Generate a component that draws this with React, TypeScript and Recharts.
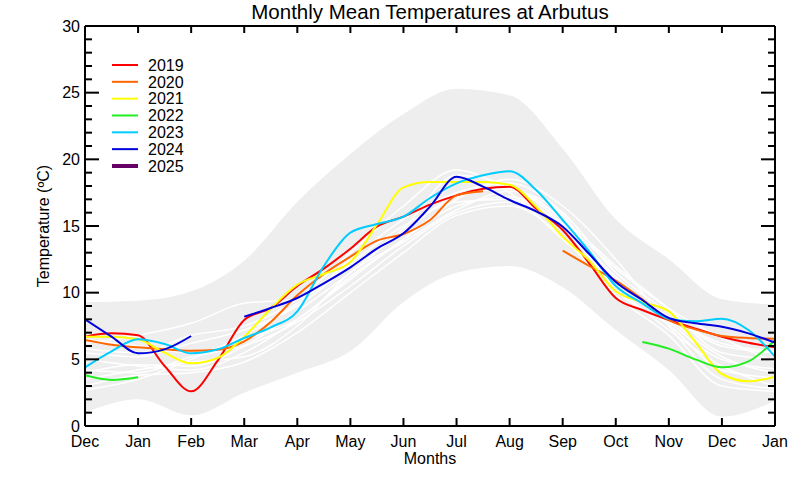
import React from 'react';
import { ComposedChart, Line, Area, XAxis, YAxis } from 'recharts';

// ---------- categories / ticks ----------
const MONTH_X = [0, 1, 2, 3, 4, 5, 6, 7, 8, 9, 10, 11, 12, 13];
const MONTH_LABELS = ['Dec', 'Jan', 'Feb', 'Mar', 'Apr', 'May', 'Jun', 'Jul', 'Aug', 'Sep', 'Oct', 'Nov', 'Dec', 'Jan'];
const HALF_MONTH_X = [0, 0.5, 1, 1.5, 2, 2.5, 3, 3.5, 4, 4.5, 5, 5.5, 6, 6.5, 7, 7.5, 8, 8.5, 9, 9.5, 10, 10.5, 11, 11.5, 12, 12.5, 13];
const Y_TICKS = [0, 1, 2, 3, 4, 5, 6, 7, 8, 9, 10, 11, 12, 13, 14, 15, 16, 17, 18, 19, 20, 21, 22, 23, 24, 25, 26, 27, 28, 29, 30];

// ---------- envelope (monthly) ----------
const BAND_LOW = [1.0, 2.0, 0.8, 2.5, 4.0, 5.6, 9.3, 11.5, 12.0, 10.4, 7.2, 4.2, 0.7, 1.9];
const BAND_HIGH = [9.3, 9.4, 10.1, 12.4, 16.8, 20.4, 23.4, 25.3, 24.8, 20.8, 15.5, 12.5, 9.5, 9.1];

// ---------- historical years (monthly, white) ----------
const HIST_A = [5.0, 4.5, 4.2, 5.5, 8.0, 11.0, 14.0, 16.5, 17.2, 15.0, 11.0, 7.8, 5.0, 4.3];
const HIST_B = [4.2, 4.0, 5.2, 6.0, 7.8, 10.5, 13.5, 16.0, 16.8, 14.8, 10.5, 7.2, 4.5, 3.0];
const HIST_C = [6.2, 6.8, 7.7, 9.2, 9.5, 12.5, 15.5, 17.5, 18.2, 16.0, 11.5, 8.5, 6.0, 5.5];
const HIST_D = [3.0, 3.8, 4.0, 4.8, 7.0, 10.0, 13.0, 15.8, 16.5, 14.2, 9.8, 6.8, 3.0, 2.6];
const HIST_E = [5.5, 5.2, 6.2, 7.2, 9.0, 12.0, 14.6, 17.2, 17.8, 15.5, 12.0, 8.8, 5.5, 5.0];
const HIST_F = [4.0, 4.6, 4.5, 6.0, 8.6, 11.5, 14.8, 18.8, 18.0, 15.2, 11.2, 8.0, 5.2, 4.0];
const HIST_G = [5.8, 5.5, 6.8, 7.5, 9.5, 13.0, 16.5, 19.2, 17.5, 14.0, 10.8, 8.2, 6.2, 5.6];
const HIST_H = [2.7, 3.5, 5.0, 6.8, 9.2, 12.2, 15.0, 16.8, 17.0, 15.2, 11.8, 8.8, 6.6, 4.8];
const HIST_I = [6.5, 6.0, 5.5, 6.5, 8.0, 11.2, 14.0, 17.0, 18.5, 16.5, 12.5, 7.5, 3.5, 2.8];
const HIST_J = [3.5, 4.2, 4.8, 5.2, 7.5, 11.5, 13.8, 16.2, 17.6, 15.8, 10.2, 7.6, 4.2, 3.6];
const HISTORY = [HIST_A, HIST_B, HIST_C, HIST_D, HIST_E, HIST_F, HIST_G, HIST_H, HIST_I, HIST_J];

// ---------- recent years (half-month grid) ----------
const N = null;
const T2019 = [6.7, 6.95, 6.8, 4.5, 2.6, 4.9, 7.95, 8.85, 10.5, 11.8, 13.3, 14.95, 15.7, 16.6, 17.3, 17.8, 17.95, 16.3, 14.7, 12.2, 9.6, 8.7, 7.95, 7.3, 6.7, 6.25, 5.9];
const T2020 = [6.45, 6.1, 5.9, 5.75, 5.65, 5.72, 6.35, 7.8, 9.8, 11.4, 12.7, 13.9, 14.4, 15.45, 17.3, 17.6, N, N, 13.15, 12.0, 10.9, 9.5, 7.95, 7.25, 6.75, 6.6, 6.55];
const T2021 = [6.7, 6.7, 6.5, 5.5, 4.7, 5.1, 6.7, 8.8, 10.6, 11.4, 12.3, 15.1, 17.9, 18.3, 18.3, 18.3, 18.1, 16.45, 14.2, 12.4, 10.1, 9.3, 8.6, 6.3, 3.9, 3.35, 3.7];
const T2022 = [3.8, 3.45, 3.65, N, N, N, N, N, N, N, N, N, N, N, N, N, N, N, N, N, N, 6.3, 5.8, 5.0, 4.4, 4.85, 6.45];
const T2023 = [4.4, 5.6, 6.5, 6.15, 5.45, 5.75, 6.6, 7.4, 8.6, 12.0, 14.5, 15.15, 15.7, 17.1, 18.2, 18.8, 19.1, 17.7, 15.45, 13.1, 10.5, 9.2, 8.05, 7.85, 8.05, 7.2, 5.2];
const T2024 = [8.0, 6.7, 5.45, 5.75, 6.75, N, 8.2, 8.85, 9.6, 10.7, 11.9, 13.3, 14.45, 16.45, 18.7, 17.95, 16.95, 16.1, 14.95, 12.9, 10.8, 9.45, 8.1, 7.7, 7.45, 6.95, 6.25];
const T2025: (number | null)[] = [];

const YEARS = ['2019', '2020', '2021', '2022', '2023', '2024', '2025'];
const YEAR_COLORS = ['#FF0000', '#FF6600', '#FFFF00', '#22EE22', '#00CCFF', '#0000DD', '#660066'];
const YEAR_VALUES = [T2019, T2020, T2021, T2022, T2023, T2024, T2025];

const FONT = '"Liberation Sans", Arial, Helvetica, sans-serif';

const bandData = MONTH_X.map((x, i) => ({ x, range: [BAND_LOW[i], BAND_HIGH[i]] }));
const histData = HISTORY.map((vals) => MONTH_X.map((x, i) => ({ x, t: vals[i] })));
const yearData = YEAR_VALUES.map((vals) =>
  vals.length === 0 ? [] : HALF_MONTH_X.map((x, i) => ({ x, t: vals[i] }))
);

const BottomTick = (props: any) => {
  const { x, y, payload } = props;
  return (
    <g>
      <line x1={x} y1={y} x2={x} y2={y - 8} stroke="#000" strokeWidth={2} />
      <text x={x} y={y + 21} textAnchor="middle" fontSize={16} fontFamily={FONT} fill="#000">
        {MONTH_LABELS[Math.round(payload.value)]}
      </text>
    </g>
  );
};

const TopTick = (props: any) => {
  const { x, y } = props;
  return <line x1={x} y1={y} x2={x} y2={y + 7} stroke="#000" strokeWidth={2} />;
};

const LeftTick = (props: any) => {
  const { x, y, payload } = props;
  const major = payload.value % 5 === 0;
  return (
    <g>
      <line x1={x} y1={y} x2={x + (major ? 14 : 7)} y2={y} stroke="#000" strokeWidth={2} />
      {major && (
        <text x={x - 5} y={y + 5.5} textAnchor="end" fontSize={16} fontFamily={FONT} fill="#000">
          {payload.value}
        </text>
      )}
    </g>
  );
};

const RightTick = (props: any) => {
  const { x, y, payload } = props;
  const major = payload.value % 5 === 0;
  return <line x1={x} y1={y} x2={x - (major ? 14 : 7)} y2={y} stroke="#000" strokeWidth={2} />;
};

export default function App() {
  return (
    <div style={{ position: 'absolute', left: 0, top: 0, width: 800, height: 480, background: '#fff' }}>
      <ComposedChart width={800} height={480} margin={{ top: 25, right: 24, bottom: 53, left: 84 }}>
        <Area
          xAxisId="top"
          yAxisId="right"
          data={bandData}
          dataKey="range"
          type="monotone"
          fill="#EEEEEE"
          fillOpacity={1}
          stroke="none"
          isAnimationActive={false}
        />
        {histData.map((d, i) => (
          <Line
            key={'h' + i}
            xAxisId="bottom"
            yAxisId="left"
            data={d}
            dataKey="t"
            type="monotone"
            stroke="#FFFFFF"
            strokeWidth={1.5}
            dot={false}
            activeDot={false}
            isAnimationActive={false}
          />
        ))}
        {yearData.map((d, i) => (
          <Line
            key={YEARS[i]}
            xAxisId="bottom"
            yAxisId="left"
            data={d}
            dataKey="t"
            name={YEARS[i]}
            type="monotone"
            stroke={YEAR_COLORS[i]}
            strokeWidth={2}
            dot={false}
            activeDot={false}
            connectNulls={false}
            isAnimationActive={false}
          />
        ))}
        <XAxis
          xAxisId="bottom"
          dataKey="x"
          type="number"
          domain={[0, 13]}
          ticks={MONTH_X}
          interval={0}
          height={1}
          tickSize={0}
          tickMargin={0}
          tickLine={false}
          tick={<BottomTick />}
          axisLine={{ stroke: '#000', strokeWidth: 2 }}
          allowDataOverflow
        />
        <XAxis
          xAxisId="top"
          orientation="top"
          dataKey="x"
          type="number"
          domain={[0, 13]}
          ticks={MONTH_X}
          interval={0}
          height={1}
          tickSize={0}
          tickMargin={0}
          tickLine={false}
          tick={<TopTick />}
          axisLine={{ stroke: '#000', strokeWidth: 2 }}
          allowDataOverflow
        />
        <YAxis
          yAxisId="left"
          type="number"
          domain={[0, 30]}
          ticks={Y_TICKS}
          interval={0}
          width={1}
          tickSize={0}
          tickMargin={0}
          tickLine={false}
          tick={<LeftTick />}
          axisLine={{ stroke: '#000', strokeWidth: 2 }}
          allowDataOverflow
        />
        <YAxis
          yAxisId="right"
          orientation="right"
          type="number"
          domain={[0, 30]}
          ticks={Y_TICKS}
          interval={0}
          width={1}
          tickSize={0}
          tickMargin={0}
          tickLine={false}
          tick={<RightTick />}
          axisLine={{ stroke: '#000', strokeWidth: 2 }}
          allowDataOverflow
        />
      </ComposedChart>
      <svg
        width={800}
        height={480}
        style={{ position: 'absolute', left: 0, top: 0, pointerEvents: 'none' }}
        fontFamily={FONT}
      >
        <text x={430} y={19} textAnchor="middle" fontSize={20.5} fill="#000">
          Monthly Mean Temperatures at Arbutus
        </text>
        <text x={430} y={464} textAnchor="middle" fontSize={16} fill="#000">
          Months
        </text>
        <text transform="translate(48.5,226) rotate(-90)" textAnchor="middle" fontSize={16} fill="#000">
          Temperature (ºC)
        </text>
        {YEARS.map((yr, i) => {
          const cy = 65 + i * 16.83;
          return (
            <g key={yr}>
              <line x1={112} x2={138} y1={cy} y2={cy} stroke={YEAR_COLORS[i]} strokeWidth={yr === '2025' ? 4 : 2} />
              <text x={148} y={cy + 5.8} fontSize={16} fill="#000">
                {yr}
              </text>
            </g>
          );
        })}
      </svg>
    </div>
  );
}
